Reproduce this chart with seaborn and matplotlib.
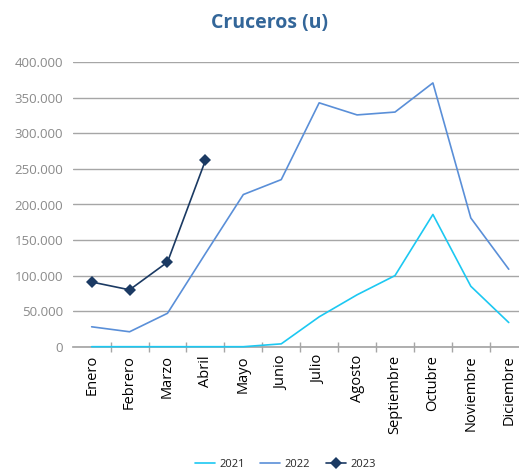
import matplotlib
matplotlib.use("Agg")
import matplotlib.pyplot as plt
import seaborn as sns
import pandas as pd
from matplotlib.ticker import FuncFormatter, FixedLocator

months = ["Enero", "Febrero", "Marzo", "Abril", "Mayo", "Junio", "Julio",
          "Agosto", "Septiembre", "Octubre", "Noviembre", "Diciembre"]
v2021 = [0, 0, 0, 0, 0, 4000, 42000, 73000, 100000, 186000, 85000, 34000]
v2022 = [28000, 21000, 47000, 131000, 214000, 235000, 343000, 326000, 330000, 371000, 181000, 109000]
v2023 = [91000, 80000, 119000, 262000]

sns.set_theme(style="white")
plt.rcParams["font.family"] = ["Open Sans", "DejaVu Sans"]

fig = plt.figure(figsize=(5.19, 4.71), dpi=100)
ax = fig.add_axes([72.7 / 519, 124.3 / 471, 455 / 519, 284.4 / 471])

series = [("2021", v2021, "#1cc8f2", None),
          ("2022", v2022, "#5a8fd8", None),
          ("2023", v2023, "#1b3a63", "D")]
for name, vals, color, mk in series:
    d = pd.DataFrame({"mes": range(len(vals)), "valor": vals})
    sns.lineplot(data=d, x="mes", y="valor", ax=ax, color=color, label=name,
                 linewidth=1.2, marker=mk, markersize=6, markeredgewidth=0,
                 zorder=5, clip_on=False)

ax.set_xlim(-0.5, 11.5)
ax.set_ylim(0, 400000)
ax.set_yticks(range(0, 400001, 50000))
ax.yaxis.set_major_formatter(FuncFormatter(lambda v, p: "0" if v == 0 else f"{int(v):,}".replace(",", ".")))
ax.grid(axis="y", color="#a6a6a6", linewidth=1)
ax.set_axisbelow(True)
for s in ["top", "right", "left"]:
    ax.spines[s].set_visible(False)
ax.spines["bottom"].set_color("#a6a6a6")
ax.spines["bottom"].set_zorder(1)
ax.set_xticks(range(12))
ax.set_xticklabels(months, rotation=90, fontsize=10.5, color="#000000")
ax.xaxis.set_minor_locator(FixedLocator([i + 0.5 for i in range(12)]))
ax.tick_params(axis="x", which="major", length=0, pad=6)
ax.tick_params(axis="x", which="minor", length=7, direction="inout", color="#a6a6a6", bottom=True)
ax.tick_params(axis="y", length=0, labelsize=9.5, labelcolor="#8a8a8a", pad=7)
ax.set_xlabel("")
ax.set_ylabel("")

fig.text(0.52, 0.952, "Cruceros (u)", ha="center", va="center",
         fontsize=14, fontweight="bold", color="#336699")

handles, labels = ax.get_legend_handles_labels()
ax.legend_.remove()
fig.legend(handles, labels, loc="center", bbox_to_anchor=(0.55, 0.013), ncol=3,
           frameon=False, fontsize=8, handlelength=1.8, columnspacing=1.4, handletextpad=0.4)

fig.savefig("out.png", dpi=100)
